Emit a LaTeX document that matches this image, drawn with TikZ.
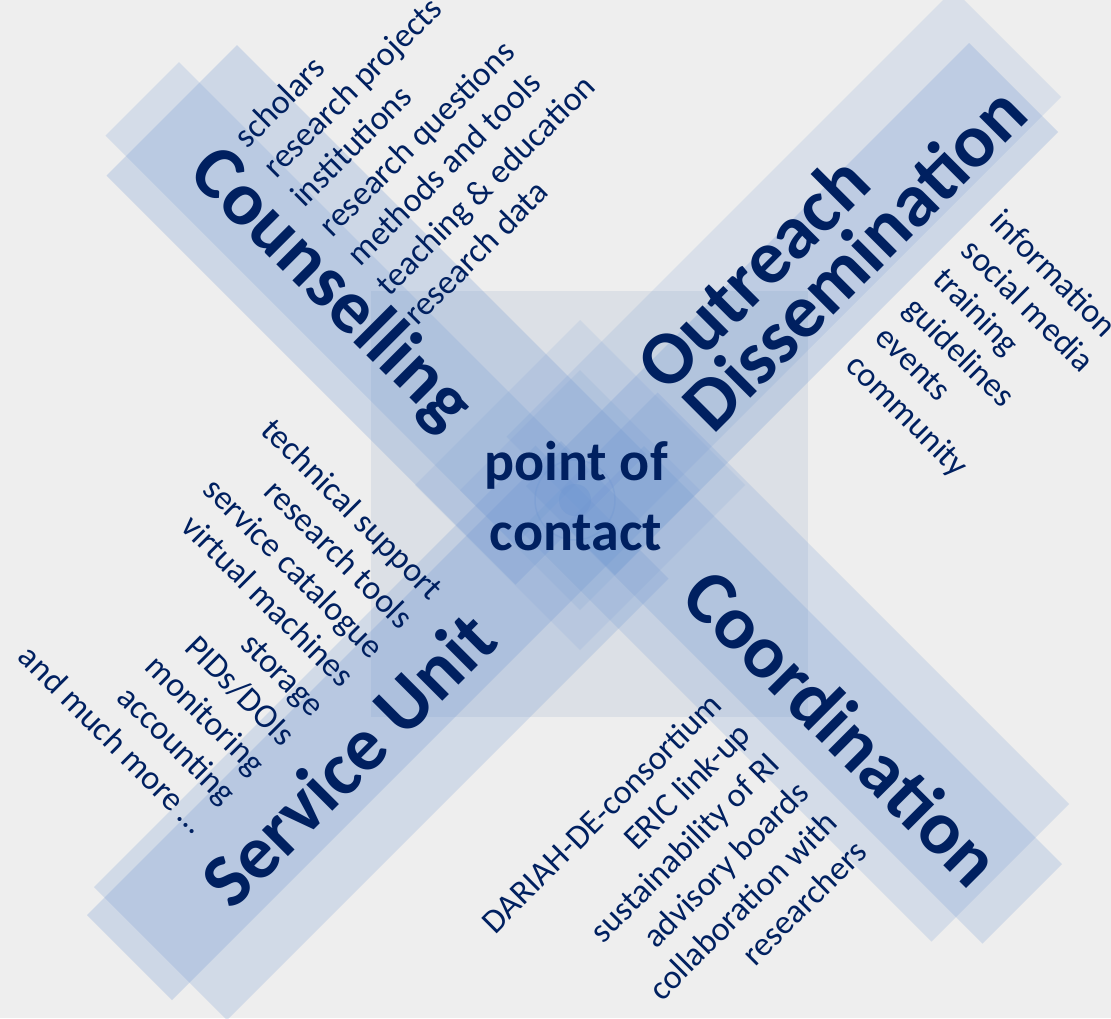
\documentclass[tikz,border=0pt]{standalone}
\usepackage{fontspec}
\setmainfont{Carlito}
\definecolor{navy}{RGB}{0,32,96}
\definecolor{bg}{RGB}{238,238,238}
\definecolor{barblue}{RGB}{110,150,210}
\definecolor{sqgrey}{RGB}{160,175,205}
\begin{document}
\begin{tikzpicture}[x=1pt,y=-1pt,
  big/.style={text=navy,font=\fontsize{76}{76}\selectfont\bfseries,inner sep=0pt},
  item/.style={text=navy,font=\fontsize{34}{40}\selectfont,inner sep=0pt},
  bar/.style={fill=barblue,fill opacity=#1,draw=none},
  bar/.default=0.25,
  sq/.style={fill=sqgrey,fill opacity=#1,draw=none},
  sq/.default=0.2]
\useasboundingbox (0,0) rectangle (1111,1018);
\fill[bg] (0,0) rectangle (1111,1018);
% centre squares and diamonds
\fill[sq=0.22] (371,291) rectangle (808,717);
\fill[bar=0.13] (580,320) -- (745,485) -- (580,650) -- (415,485) -- cycle;
\fill[bar=0.13] (580,370) -- (700,490) -- (580,610) -- (460,490) -- cycle;
% NW arm
\fill[bar=0.2] (179,62) -- (588.5,471.5) -- (515,545) -- (105.5,135.5) -- cycle;
\fill[bar=0.25] (237,45) -- (646,454) -- (515.5,584.5) -- (106.5,175.5) -- cycle;
% SE arm
\fill[bar=0.2] (1069,804) -- (657.5,392.5) -- (520,530) -- (931.5,941.5) -- cycle;
\fill[bar=0.22] (1062,864) -- (644,446) -- (564.5,525.5) -- (982.5,943.5) -- cycle;
% NE arm
\fill[bar=0.16] (953.5,-10.5) -- (1061,97) -- (614,544) -- (506.5,436.5) -- cycle;
\fill[bar=0.25] (969,43) -- (1058,132) -- (615,575) -- (526,486) -- cycle;
% SW arm
\fill[bar=0.22] (94,887) -- (535.5,445.5) -- (668.5,578.5) -- (227,1020) -- cycle;
\fill[bar=0.25] (87,915) -- (561,441) -- (646,526) -- (172,1000) -- cycle;
% centre circle
\draw[barblue,opacity=0.3,line width=1.5pt] (575,500) circle (40);
\fill[barblue,opacity=0.4] (575,500) circle (16);
% big labels
\node[big,rotate=-45] (couns) at (330,290) {Counselling};
\node[big,rotate=45] (outr) at (752,272) {Outreach};
\node[big,rotate=45] (diss) at (854,258) {Dissemination};
\node[big,rotate=-45] (coord) at (843,727) {Coordination};
\node[big,rotate=45] (serv) at (348,759) {Service Unit};
\node[text=navy,font=\fontsize{56}{70}\selectfont\bfseries,inner sep=0pt,anchor=base] (poc1) at (576,480) {point of};
\node[text=navy,font=\fontsize{56}{70}\selectfont\bfseries,inner sep=0pt,anchor=base] (poc2) at (576,550) {contact};
% counselling items
\begin{scope}[every node/.style={item,rotate=45,anchor=mid west}]
\node (c0) at (246,148) {scholars};
\node (c1) at (274.3,177.5) {research projects};
\node (c2) at (302.6,207) {institutions};
\node (c3) at (331,236.5) {research questions};
\node (c4) at (359,266) {methods and tools};
\node (c5) at (387.5,295.5) {teaching \& education};
\node (c6) at (416,325) {research data};
\end{scope}
% outreach items
\begin{scope}[every node/.style={item,rotate=-45,anchor=mid west}]
\node (o0) at (990,222) {information};
\node (o1) at (961.3,250.8) {social media};
\node (o2) at (932.6,279.6) {training};
\node (o3) at (903.9,308.4) {guidelines};
\node (o4) at (875.2,337.2) {events};
\node (o5) at (846.5,366) {community};
\end{scope}
% service items
\begin{scope}[every node/.style={item,rotate=-45,anchor=mid east}]
\node (s0) at (431,600) {technical support};
\node (s1) at (401.5,629.2) {research tools};
\node (s2) at (372,658.4) {service catalogue};
\node (s3) at (342.5,687.6) {virtual machines};
\node (s4) at (313,716.8) {storage};
\node (s5) at (283.5,746) {PIDs/DOIs};
\node (s6) at (254,775.2) {monitoring};
\node (s7) at (224.5,804.4) {accounting};
\node (s8) at (195,833.6) {and much more …};
\end{scope}
% coordination items
\begin{scope}[every node/.style={item,rotate=45,anchor=mid east}]
\node (d0) at (722,705) {DARIAH-DE-consortium};
\node (d1) at (751,734.5) {ERIC link-up};
\node (d2) at (780,764) {sustainability of RI};
\node (d3) at (809,793.5) {advisory boards};
\node (d4) at (838,823) {collaboration with};
\node (d5) at (867,852.5) {researchers};
\end{scope}
\end{tikzpicture}
\end{document}
